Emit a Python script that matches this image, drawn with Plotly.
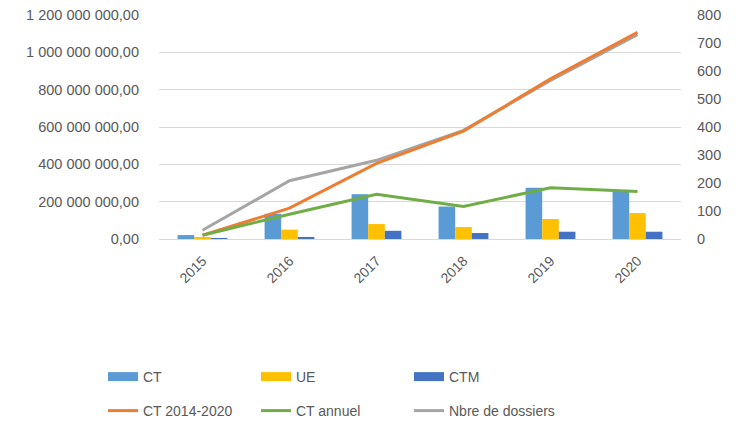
import plotly.graph_objects as go

years = ["2015", "2016", "2017", "2018", "2019", "2020"]
ct = [21e6, 135e6, 240e6, 174e6, 275e6, 254e6]
ue = [10e6, 50e6, 80e6, 64e6, 107e6, 139e6]
ctm = [5e6, 11e6, 44e6, 32e6, 39e6, 39e6]
ct_cumul = [20e6, 165e6, 405e6, 578e6, 858e6, 1107e6]
ct_annuel = [20e6, 133e6, 240e6, 174e6, 275e6, 254e6]
nb_dossiers = [31, 208, 281, 388, 566, 730]

C_CT = "#5B9BD5"
C_UE = "#FFC000"
C_CTM = "#4472C4"
C_OR = "#ED7D31"
C_GR = "#70AD47"
C_GY = "#A5A5A5"
TXT = "#595959"
FONT = "Liberation Sans"

fig = go.Figure()

# gray count line on the right axis (drawn first / underneath)
fig.add_trace(go.Scatter(x=years, y=nb_dossiers, mode="lines", name="Nbre de dossiers",
                         line=dict(color=C_GY, width=3), yaxis="y", showlegend=False))

for name, vals, col in [("CT", ct, C_CT), ("UE", ue, C_UE), ("CTM", ctm, C_CTM)]:
    fig.add_trace(go.Bar(x=years, y=vals, name=name, marker=dict(color=col, line=dict(width=0)),
                         yaxis="y2", showlegend=False))

fig.add_trace(go.Scatter(x=years, y=ct_cumul, mode="lines", name="CT 2014-2020",
                         line=dict(color=C_OR, width=3), yaxis="y2", showlegend=False))
fig.add_trace(go.Scatter(x=years, y=ct_annuel, mode="lines", name="CT annuel",
                         line=dict(color=C_GR, width=3), yaxis="y2", showlegend=False))

# legend entries
for name, col in [("CT", C_CT), ("UE", C_UE), ("CTM", C_CTM)]:
    fig.add_trace(go.Scatter(x=[None], y=[None], mode="lines", name=name,
                             line=dict(color=col, width=9), yaxis="y2", legend="legend"))
for name, col in [("CT 2014-2020", C_OR), ("CT annuel", C_GR), ("Nbre de dossiers", C_GY)]:
    fig.add_trace(go.Scatter(x=[None], y=[None], mode="lines", name=name,
                             line=dict(color=col, width=3), yaxis="y2", legend="legend2"))

# page body has an 8px margin: figure drawn from (8, 8)
W, H = 736, 415
ml, mr, mt, mb = 151, 63, 7, 184
ph = H - mt - mb
pw = W - ml - mr

def ypix(p):
    return (H - mb - p) / ph

leg_common = dict(orientation="h", xanchor="left", yanchor="middle", x=(95 - ml) / pw,
                  font=dict(family=FONT, size=14, color=TXT), entrywidth=108, itemwidth=30,
                  bgcolor="rgba(0,0,0,0)", tracegroupgap=0)

fig.update_layout(
    width=W, height=H,
    margin=dict(l=ml, r=mr, t=mt, b=mb, autoexpand=False),
    paper_bgcolor="white", plot_bgcolor="white",
    separators=", ",
    barmode="group", bargap=0.427, bargroupgap=0,
    font=dict(family=FONT, size=14, color=TXT),
    xaxis=dict(type="category", tickangle=-45, showgrid=False, showline=False, ticks="",
               ticklabelstandoff=10,
               tickfont=dict(family=FONT, size=14, color=TXT), zeroline=False),
    yaxis=dict(side="right", range=[0, 800], dtick=100, showgrid=False, zeroline=False,
               showline=False, ticks="", ticklabelstandoff=15, ticklabeloverflow="allow",
               tickfont=dict(family=FONT, size=14.5, color=TXT)),
    yaxis2=dict(side="left", overlaying="y", range=[0, 1.2e9], dtick=2e8, tickformat=",.2f",
                showgrid=True, gridcolor="#D9D9D9", gridwidth=1, zeroline=True,
                zerolinecolor="#D9D9D9", zerolinewidth=1, showline=False, ticks="",
                ticklabeloverflow="allow",
                ticklabelstandoff=19, tickfont=dict(family=FONT, size=14.5, color=TXT)),
    legend=dict(y=ypix(369), **leg_common),
    legend2=dict(y=ypix(403), **leg_common),
)

fig.write_html("out.html")
